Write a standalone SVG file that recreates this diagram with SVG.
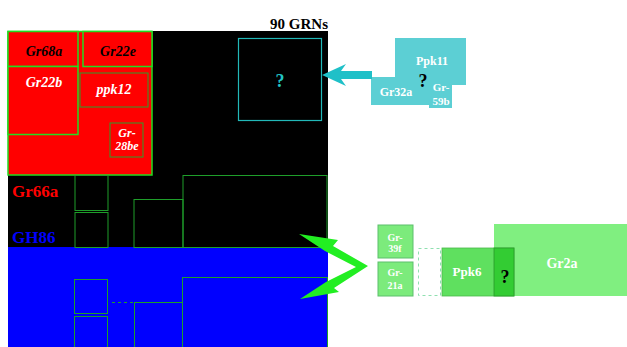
<svg xmlns="http://www.w3.org/2000/svg" width="627" height="347" viewBox="0 0 627 347">
<style>
.t{font-family:"Liberation Serif","Times New Roman",serif;font-weight:bold}
.i{font-style:italic}
.gb{fill:none;stroke:#1e9e2a;stroke-width:1}
.rb{fill:#ff0000;stroke:#22dd22;stroke-width:1.5}
.rs{fill:none;stroke:#2aa02a;stroke-width:1}
.cy{fill:#5ccfd4}
.lg{fill:#7ceb7c;stroke:#5cbf6c;stroke-width:1}
.w{fill:#ffffff}
</style>
<rect width="627" height="347" fill="#ffffff"/>
<g id="main">
<rect x="8" y="31" width="320" height="216" fill="#000000"/>
<rect x="8" y="247" width="320" height="100" fill="#0000ff"/>
<text class="t" x="328" y="29" font-size="15" text-anchor="end">90 GRNs</text>
<text class="t" x="12" y="197" font-size="17" fill="#ff0000">Gr66a</text>
<text class="t" x="12" y="243" font-size="17" fill="#0000ff">GH86</text>
</g>
<g id="red-cluster">
<rect class="rb" x="8" y="31.5" width="144" height="143.5"/>
<rect class="rb" x="8" y="31.5" width="70" height="35"/>
<rect class="rb" x="8" y="66.5" width="70" height="68"/>
<rect class="rb" x="83" y="31.5" width="69" height="35"/>
<rect class="rs" x="80" y="73" width="68" height="34"/>
<rect class="rs" x="110" y="123" width="33" height="34"/>
<text class="t i" x="44" y="56" font-size="14" text-anchor="middle">Gr68a</text>
<text class="t i" x="118" y="56" font-size="14" text-anchor="middle">Gr22e</text>
<text class="t i w" x="44" y="87" font-size="14" text-anchor="middle">Gr22b</text>
<text class="t i w" x="114" y="94" font-size="14" text-anchor="middle">ppk12</text>
<text class="t i w" x="127" y="137" font-size="12" text-anchor="middle">Gr-</text>
<text class="t i w" x="127" y="150" font-size="12" text-anchor="middle">28be</text>
</g>
<g id="black-boxes">
<rect class="gb" x="75" y="175.5" width="33" height="35"/>
<rect class="gb" x="75" y="212.5" width="33" height="35"/>
<rect class="gb" x="134" y="199.5" width="49" height="48"/>
<rect class="gb" x="183" y="175.5" width="144" height="72"/>
<rect x="238.5" y="38.5" width="83" height="82" fill="none" stroke="#22b8b8" stroke-width="1.2"/>
<text class="t" x="280" y="87" font-size="18" fill="#22c4c4" text-anchor="middle">?</text>
</g>
<g id="blue-boxes">
<rect class="gb" x="74.5" y="279.5" width="33" height="34"/>
<rect class="gb" x="74.5" y="316.5" width="33" height="34"/>
<rect class="gb" x="134.5" y="302.5" width="48" height="48"/>
<rect class="gb" x="182.5" y="277.5" width="145" height="73"/>
<line x1="112" y1="302.5" x2="134" y2="302.5" stroke="#1e9e2a" stroke-width="1" stroke-dasharray="3 3"/>
</g>
<g id="cyan-cluster">
<rect class="cy" x="395" y="38" width="71" height="47"/>
<rect class="cy" x="371" y="77" width="59" height="28"/>
<rect class="cy" x="429" y="85" width="23" height="23" fill="#4cc8d0"/>
<text class="t w" x="432" y="65" font-size="12" text-anchor="middle">Ppk11</text>
<text class="t w" x="396" y="96" font-size="12" text-anchor="middle">Gr32a</text>
<text class="t w" x="441" y="91" font-size="11" text-anchor="middle">Gr-</text>
<text class="t w" x="441" y="105" font-size="11" text-anchor="middle">59b</text>
<text class="t" x="423" y="87" font-size="18" text-anchor="middle">?</text>
</g>
<g id="green-cluster">
<rect class="lg" x="378" y="225" width="35" height="33"/>
<rect class="lg" x="378" y="262" width="35" height="34"/>
<rect x="418.5" y="248.5" width="22" height="47" fill="none" stroke="#8fe0b0" stroke-width="1" stroke-dasharray="3 3"/>
<rect x="494" y="224" width="134" height="72" fill="#80ef80"/>
<rect x="442" y="248" width="72" height="48" fill="#5fe05f" stroke="#4ab84a" stroke-width="0.8"/>
<rect x="494" y="248" width="20" height="48" fill="#33cc33" stroke="#2a9a2a" stroke-width="0.8"/>
<text class="t w" x="395" y="241" font-size="10" text-anchor="middle">Gr-</text>
<text class="t w" x="395" y="252" font-size="10" text-anchor="middle">39f</text>
<text class="t w" x="395" y="276" font-size="10" text-anchor="middle">Gr-</text>
<text class="t w" x="395" y="289" font-size="10" text-anchor="middle">21a</text>
<text class="t w" x="467" y="276" font-size="13" text-anchor="middle">Ppk6</text>
<text class="t w" x="562" y="268" font-size="14" text-anchor="middle">Gr2a</text>
<text class="t" x="505" y="283" font-size="18" text-anchor="middle">?</text>
</g>
<g id="connectors">
<polygon points="322,75 346,64 341,71 372,71 372,79 341,79 346,86" fill="#1fc0c8"/>
<polygon points="299,234 338,240 333,246 368,266 334,288 339,292 300,299 326,282 356,267 325,251" fill="#22ee22"/>
</g>
</svg>
